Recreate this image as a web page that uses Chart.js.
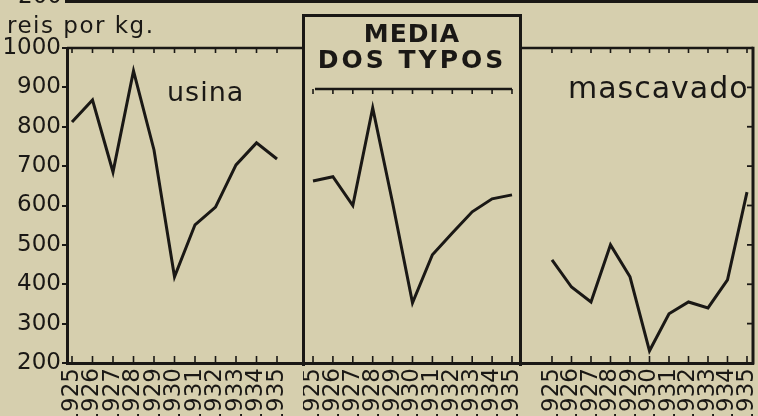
<!DOCTYPE html>
<html>
<head>
<meta charset="utf-8">
<script src="https://cdn.jsdelivr.net/npm/chart.js@4/dist/chart.umd.min.js"></script>
<style>
html,body{margin:0;padding:0;background:#d6cfae;}
#wrap{position:relative;width:758px;height:416px;overflow:hidden;background:#d6cfae;}
canvas{position:absolute;top:0;}
.t{position:absolute;color:#1a1815;font-family:'DejaVu Sans',sans-serif;white-space:nowrap;}
</style>
</head>
<body>
<div id="wrap">
  <canvas id="c1" width="303" height="416" style="left:0px"></canvas>
  <canvas id="c2" width="216" height="416" style="left:303px"></canvas>
  <canvas id="c3" width="239" height="416" style="left:519px"></canvas>

  <div class="t" style="left:0px;top:-16px;width:62px;text-align:right;font-size:23px;line-height:23px">200</div>
  <div style="position:absolute;left:65px;top:0px;width:693px;height:3px;background:#1a1815"></div>
  <div class="t" style="left:7px;top:12px;font-size:23px;line-height:26px;letter-spacing:1.5px">reis por kg.</div>
  <div class="t" style="left:167px;top:77px;font-size:27px;line-height:30px;letter-spacing:1px">usina</div>
  <div class="t" style="left:568px;top:71px;font-size:30px;line-height:34px;letter-spacing:1px">mascavado</div>

  <div style="position:absolute;left:302px;top:14px;width:214px;height:349px;border:3px solid #1a1815;border-bottom:none"></div>
  <div class="t" style="left:302px;top:21px;width:220px;text-align:center;font-size:25px;line-height:26px;font-weight:bold;letter-spacing:1px">MEDIA</div>
  <div class="t" style="left:302px;top:47px;width:220px;text-align:center;font-size:25px;line-height:26px;font-weight:bold;letter-spacing:3px">DOS TYPOS</div>
</div>
<script>
// ---- data (reis por kg.) ----
const years = [1925, 1926, 1927, 1928, 1929, 1930, 1931, 1932, 1933, 1934, 1935];
const xTickLabels = ['1925', '1926', '1927', '1928', '1929', '1930', '1931', '1932', '1933', '1934', '1935'];
const yTicks = [200, 300, 400, 500, 600, 700, 800, 900, 1000];
const yTickLabels = ['200', '300', '400', '500', '600', '700', '800', '900', '1000'];
const usina = [812, 868, 685, 942, 741, 419, 551, 596, 703, 759, 718];
const mediaDosTypos = [662, 673, 600, 848, 607, 353, 475, 530, 584, 617, 627];
const mascavado = [462, 393, 355, 500, 419, 231, 325, 355, 340, 411, 634];

const INK = '#1a1815';

const framePlugin = {
  id: 'frame',
  afterDatasetsDraw(chart, args, o) {
    const ctx = chart.ctx, a = chart.chartArea, x = chart.scales.x, y = chart.scales.y;
    const seg = (x1, y1, x2, y2) => { ctx.beginPath(); ctx.moveTo(x1, y1); ctx.lineTo(x2, y2); ctx.stroke(); };
    ctx.save();
    ctx.strokeStyle = INK;
    ctx.lineCap = 'butt';
    let topY = a.top;
    let tx1 = a.left, tx2 = a.right;
    if (o.innerTop) { topY = o.innerTop.y; tx1 = o.innerTop.x1; tx2 = o.innerTop.x2; }
    if (o.top) { ctx.lineWidth = 2.5; seg(tx1, topY, tx2, topY); }
    ctx.lineWidth = 1.6;
    years.forEach(v => {
      const px = x.getPixelForValue(v);
      seg(px, a.bottom - 1, px, a.bottom - 7);
      if (o.top) seg(px, topY, px, topY + 5);
    });
    if (o.right) {
      ctx.lineWidth = 3;
      seg(a.right, a.top - 1.2, a.right, a.bottom + 1.5);
      ctx.lineWidth = 1.8;
      yTicks.forEach(v => {
        const py = y.getPixelForValue(v);
        if (v > 200 && v < 1000) seg(a.right, py, a.right - 6, py);
      });
    }
    ctx.restore();
  }
};

function makeChart(id, values, cfg) {
  return new Chart(document.getElementById(id), {
    type: 'line',
    data: {
      datasets: [{
        data: years.map((yr, i) => ({ x: yr, y: values[i] })),
        borderColor: INK,
        borderWidth: 3,
        pointRadius: 0,
        tension: 0,
        fill: false
      }]
    },
    plugins: [framePlugin],
    options: {
      responsive: false,
      animation: false,
      events: [],
      layout: { padding: { top: 48, left: 0, right: cfg.padRight || 0, bottom: 0 } },
      plugins: {
        legend: { display: false },
        tooltip: { enabled: false },
        frame: cfg.frame
      },
      scales: {
        x: {
          type: 'linear',
          min: cfg.xmin,
          max: cfg.xmax,
          afterBuildTicks: s => { s.ticks = years.map(v => ({ value: v })); },
          afterFit: s => { s.height = 53; s.paddingLeft = 0; s.paddingRight = 0; },
          grid: { display: false, drawTicks: false, tickLength: 0 },
          border: { display: true, width: 3, color: INK },
          ticks: {
            autoSkip: false,
            minRotation: 90,
            maxRotation: 90,
            padding: 5,
            color: INK,
            font: { family: 'DejaVu Sans', size: 23 },
            callback: v => xTickLabels[years.indexOf(v)]
          }
        },
        y: {
          type: 'linear',
          min: 200,
          max: 1000,
          display: !!cfg.showY,
          afterBuildTicks: s => { s.ticks = yTicks.map(v => ({ value: v })); },
          afterFit: s => { s.width = cfg.showY ? 67 : 0; },
          grid: { display: true, drawOnChartArea: false, drawTicks: true, tickLength: 5, color: INK, lineWidth: 2 },
          border: { display: true, width: 3, color: INK },
          ticks: {
            padding: 1,
            color: INK,
            font: { family: 'DejaVu Sans', size: 23 },
            callback: v => yTickLabels[yTicks.indexOf(v)]
          }
        }
      }
    }
  });
}

makeChart('c1', usina, { xmin: 1924.756, xmax: 1936.268, showY: true, frame: { top: true } });
makeChart('c2', mediaDosTypos, { xmin: 1924.497, xmax: 1935.352, frame: { top: true, innerTop: { y: 89, x1: 12, x2: 209 } } });
makeChart('c3', mascavado, { xmin: 1923.308, xmax: 1935.308, padRight: 5, frame: { top: true, right: true } });
</script>
</body>
</html>
